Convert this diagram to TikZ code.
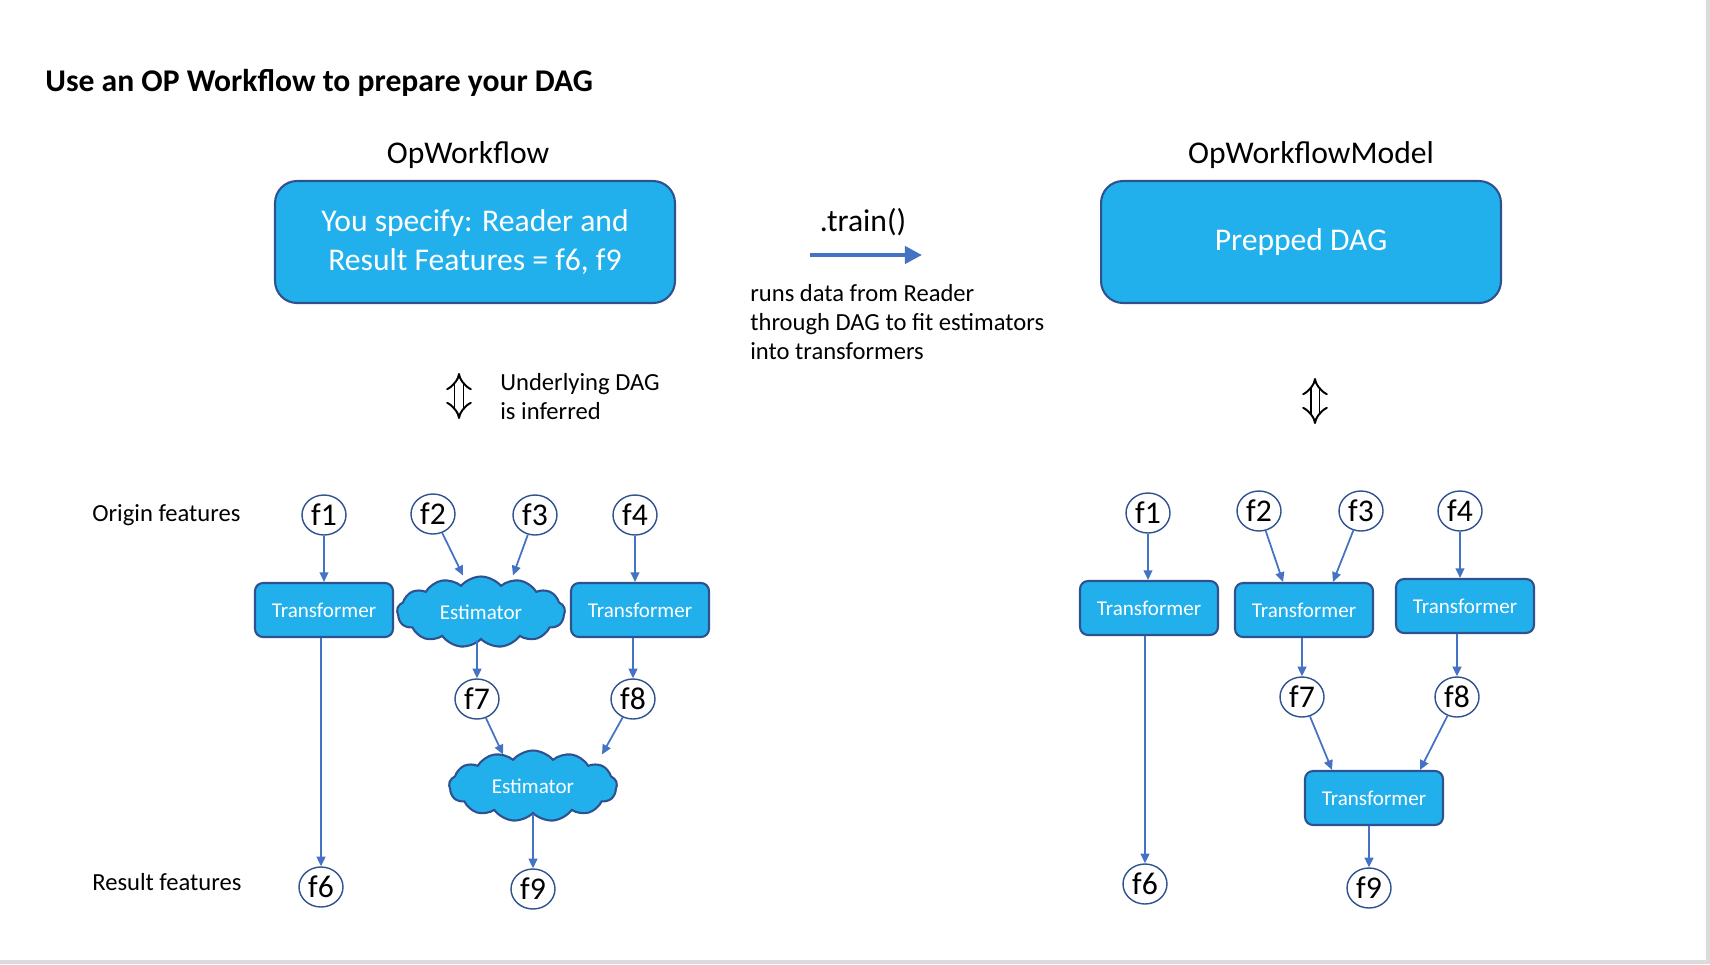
\documentclass[tikz,border=0pt]{standalone}
\usepackage{fontspec}
\setmainfont{Carlito}
\usetikzlibrary{shapes.geometric,shapes.symbols,arrows.meta}

\definecolor{boxblue}{HTML}{21B0EC}
\definecolor{edgeblue}{HTML}{2F528F}
\definecolor{arrowblue}{HTML}{4472C4}

\tikzset{
    feat/.style={ellipse, draw=edgeblue, line width=0.8pt, fill=white, minimum width=0.88cm, minimum height=0.8cm, inner sep=0pt, font=\fontsize{18}{18}\selectfont},
    trans/.style={rectangle, rounded corners=0.16cm, draw=edgeblue, line width=1.2pt, fill=boxblue, text=white, minimum width=2.76cm, minimum height=1.08cm, font=\fontsize{12}{12}\selectfont},
    estim/.style={cloud, cloud puffs=13, cloud puff arc=100, aspect=2.3, draw=edgeblue, line width=1.2pt, fill=boxblue, text=white, minimum width=3.36cm, minimum height=1.42cm, inner sep=0pt, font=\fontsize{12}{12}\selectfont},
    bigbox/.style={rectangle, rounded corners=0.44cm, draw=edgeblue, line width=1.2pt, fill=boxblue, text=white, minimum width=8cm, minimum height=2.44cm, align=center, font=\fontsize{18}{22.2}\selectfont},
    flow/.style={-{Triangle[length=5.5pt,width=5pt]}, arrowblue, line width=1pt},
    inferred/.style={double, double distance=4pt, line width=1.1pt, {Implies}-{Implies}},
    note/.style={anchor=west, align=left, inner sep=0pt, font=\fontsize{14}{16.5}\selectfont},
}

\begin{document}
\begin{tikzpicture}[x=0.02cm, y=-0.02cm]
    \useasboundingbox (0,0) rectangle (1710,964);
    % slide edge
    \fill[black!14] (1706,0) rectangle (1710,964);
    \fill[black!14] (0,960) rectangle (1710,964);

    \node[anchor=west, inner sep=0pt, font=\bfseries\fontsize{18}{18}\selectfont] (title) at (45,83) {Use an OP Workflow to prepare your DAG};

    % top row
    \node[font=\fontsize{18}{18}\selectfont] (wflabel) at (468,155) {OpWorkflow};
    \node[bigbox] (wf) at (475,242) {You specify: Reader and\\Result Features = f6, f9};
    \node[font=\fontsize{18}{18}\selectfont] (wmlabel) at (1311,155) {OpWorkflowModel};
    \node[bigbox] (wm) at (1301,242) {Prepped DAG};

    \node[font=\fontsize{18}{18}\selectfont] (train) at (863,222) {.train()};
    \coordinate (trainfrom) at (810,255);
    \coordinate (trainto) at (922,255);
    \draw[arrowblue, line width=2.3pt, -{Triangle[length=9.7pt,width=9.7pt]}] (trainfrom) -- (trainto);
    \node[note] (trainnote) at (750,322) {runs data from Reader\\through DAG to fit estimators\\into transformers};

    \coordinate (dagtopl) at (459,373);
    \coordinate (dagbotl) at (459,419);
    \draw[inferred] (dagtopl) -- (dagbotl);
    \node[note] (dagnote) at (500,397) {Underlying DAG\\is inferred};
    \coordinate (dagtopr) at (1315,378);
    \coordinate (dagbotr) at (1315,424);
    \draw[inferred] (dagtopr) -- (dagbotr);

    \node[note] (origin) at (92,515) {Origin features};
    \node[note] (result) at (92,882) {Result features};

    % OpWorkflow DAG
    \node[feat] (lf1) at (324,515) {f1};
    \node[feat] (lf2) at (433,514) {f2};
    \node[feat] (lf3) at (535,515) {f3};
    \node[feat] (lf4) at (635,515) {f4};
    \node[trans] (ltA) at (324,610) {Transformer};
    \node[estim] (leA) at (481,612) {Estimator};
    \node[trans] (ltB) at (640,610) {Transformer};
    \node[feat] (lf7) at (477,699) {f7};
    \node[feat] (lf8) at (633,699) {f8};
    \node[estim] (leB) at (533,786) {Estimator};
    \node[feat] (lf6) at (321,887) {f6};
    \node[feat] (lf9) at (533,889) {f9};

    \draw[flow] (lf1) -- (ltA);
    \draw[flow] (lf2) -- ([xshift=-0.36cm]leA.north);
    \draw[flow] (lf3) -- ([xshift=0.64cm]leA.north);
    \draw[flow] (lf4) -- (lf4 |- ltB.north);
    \draw[flow] (ltA.south -| lf6) -- (lf6);
    \draw[flow] (leA.south -| lf7) -- (lf7);
    \draw[flow] (ltB.south -| lf8) -- (lf8);
    \draw[flow] (lf7) -- ([xshift=-0.6cm,yshift=-0.1cm]leB.north);
    \draw[flow] (lf8) -- ([xshift=1.38cm,yshift=-0.1cm]leB.north);
    \draw[flow] (leB.south -| lf9) -- (lf9);

    % OpWorkflowModel DAG
    \node[feat] (rf1) at (1148,513) {f1};
    \node[feat] (rf2) at (1259,511) {f2};
    \node[feat] (rf3) at (1361,511) {f3};
    \node[feat] (rf4) at (1460,511) {f4};
    \node[trans] (rtA) at (1149,608) {Transformer};
    \node[trans] (rtB) at (1304,610) {Transformer};
    \node[trans] (rtC) at (1465,606) {Transformer};
    \node[feat] (rf7) at (1302,697) {f7};
    \node[feat] (rf8) at (1457,697) {f8};
    \node[trans] (rtD) at (1374,798) {Transformer};
    \node[feat] (rf6) at (1145,884) {f6};
    \node[feat] (rf9) at (1369,888) {f9};

    \draw[flow] (rf1) -- (rf1 |- rtA.north);
    \draw[flow] (rf2) -- ([xshift=-0.42cm]rtB.north);
    \draw[flow] (rf3) -- ([xshift=0.58cm]rtB.north);
    \draw[flow] (rf4) -- (rf4 |- rtC.north);
    \draw[flow] (rtA.south -| rf6) -- (rf6);
    \draw[flow] (rtB.south -| rf7) -- (rf7);
    \draw[flow] (rtC.south -| rf8) -- (rf8);
    \draw[flow] (rf7) -- ([xshift=-0.84cm]rtD.north);
    \draw[flow] (rf8) -- ([xshift=0.92cm]rtD.north);
    \draw[flow] (rtD.south -| rf9) -- (rf9);
\end{tikzpicture}
\end{document}
